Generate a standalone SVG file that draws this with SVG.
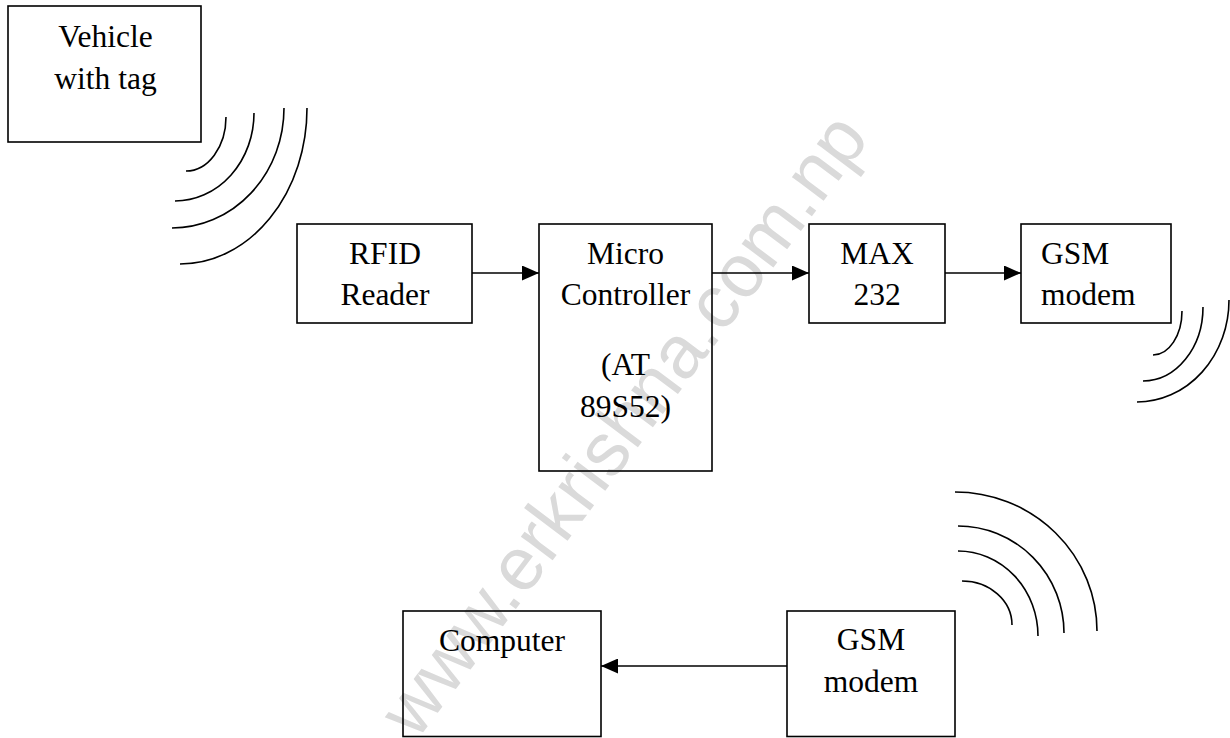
<svg xmlns="http://www.w3.org/2000/svg" width="1230" height="738" viewBox="0 0 1230 738">
  <style>
    .box { fill: none; stroke: #000; stroke-width: 1.6; }
    .label { font-family: "Liberation Serif", "Times New Roman", serif; font-size: 31.5px; fill: #000; text-anchor: middle; }
    .wave { fill: none; stroke: #000; stroke-width: 1.6; }
    .link { fill: none; stroke: #000; stroke-width: 1.6; marker-end: url(#arrow); }
    .mark { font-family: "Liberation Sans", Arial, sans-serif; font-size: 75px; fill: #dadada; text-anchor: middle; }
  </style>
  <defs>
    <marker id="arrow" markerUnits="userSpaceOnUse" markerWidth="17" markerHeight="15" refX="17" refY="7.5" orient="auto">
      <path d="M0,0 L17,7.5 L0,15 z" fill="#000"/>
    </marker>
  </defs>

  <rect width="1230" height="738" fill="#fff"/>

  <!-- site mark behind the drawing -->
  <text class="mark" x="628" y="447.5" transform="rotate(-53 628 428)">www.erkrishna.com.np</text>

  <g id="vehicle">
    <rect class="box" x="8" y="6" width="193" height="136"/>
    <text class="label" x="105.5" y="47">Vehicle</text>
    <text class="label" x="105.5" y="89">with tag</text>
  </g>

  <g id="vehicle-waves">
    <path class="wave" d="M226,117 A40,54 0 0 1 186,171"/>
    <path class="wave" d="M254,113 A79,88 0 0 1 175,201"/>
    <path class="wave" d="M284,108 A112,120 0 0 1 172,228"/>
    <path class="wave" d="M307,108 A127,156 0 0 1 180,264"/>
  </g>

  <g id="rfid-reader">
    <rect class="box" x="297" y="224" width="175" height="99"/>
    <text class="label" x="385" y="264">RFID</text>
    <text class="label" x="385" y="305">Reader</text>
  </g>

  <g id="micro-controller">
    <rect class="box" x="539" y="224" width="173" height="247"/>
    <text class="label" x="625.5" y="264">Micro</text>
    <text class="label" x="625.5" y="305">Controller</text>
    <text class="label" x="625.5" y="375">(AT</text>
    <text class="label" x="625.5" y="417">89S52)</text>
  </g>

  <g id="max232">
    <rect class="box" x="809" y="224" width="136" height="99"/>
    <text class="label" x="877" y="264">MAX</text>
    <text class="label" x="877" y="305">232</text>
  </g>

  <g id="gsm-modem-tx">
    <rect class="box" x="1021" y="224" width="150" height="99"/>
    <text class="label" x="1041" y="264" style="text-anchor:start">GSM</text>
    <text class="label" x="1041" y="305" style="text-anchor:start">modem</text>
  </g>

  <g id="gsm-tx-waves">
    <path class="wave" d="M1182,311 A29,44 0 0 1 1153,355"/>
    <path class="wave" d="M1203,307 A60,74 0 0 1 1143,381"/>
    <path class="wave" d="M1229,300 A92,102 0 0 1 1137,402"/>
  </g>

  <g id="gsm-rx-waves">
    <path class="wave" d="M962,581 A50,44 0 0 1 1012,625"/>
    <path class="wave" d="M958,551 A80,85 0 0 1 1038,636"/>
    <path class="wave" d="M958,526 A106,107 0 0 1 1064,633"/>
    <path class="wave" d="M955,492 A142,139 0 0 1 1097,631"/>
  </g>

  <g id="computer">
    <rect class="box" x="403" y="611" width="198" height="125.5"/>
    <text class="label" x="502" y="651">Computer</text>
  </g>

  <g id="gsm-modem-rx">
    <rect class="box" x="787" y="611" width="168" height="125.5"/>
    <text class="label" x="871" y="650">GSM</text>
    <text class="label" x="871" y="692">modem</text>
  </g>

  <g id="connectors">
    <path class="link" d="M472,273 H539"/>
    <path class="link" d="M712,273 H809"/>
    <path class="link" d="M945,273 H1021"/>
    <path class="link" d="M787,666 H601"/>
  </g>
</svg>
